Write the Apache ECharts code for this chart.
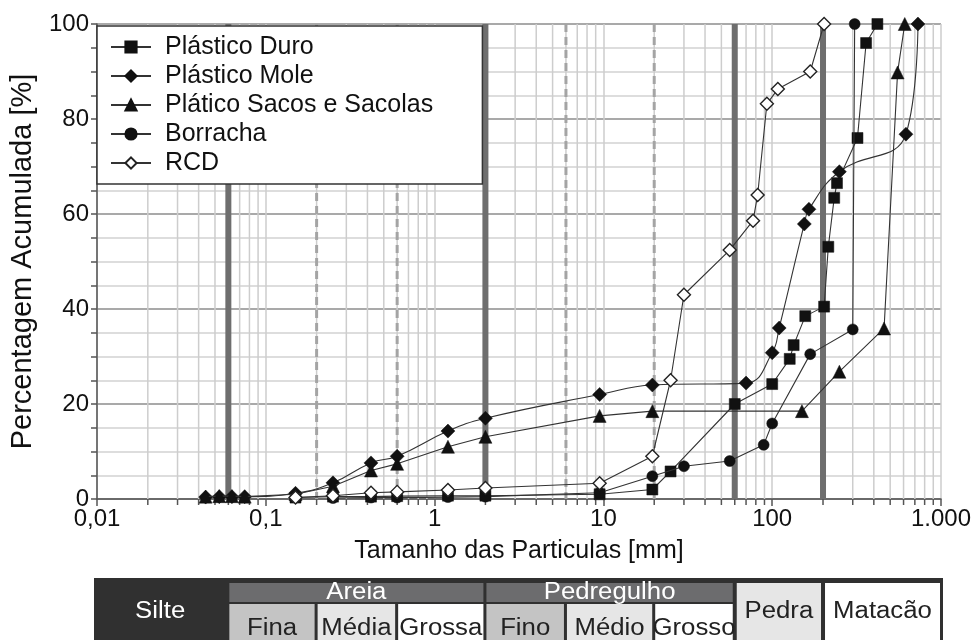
<!DOCTYPE html>
<html><head><meta charset="utf-8">
<script src="https://cdn.jsdelivr.net/npm/echarts@6/dist/echarts.min.js"></script>
<style>html,body{margin:0;padding:0;background:#fff}#c{width:978px;height:640px}</style>
</head><body><div id="c"></div>
<script>
// ---- data ----
const xTickLabels = ['0,01', '0,1', '1', '10', '100', '1.000'];
const seriesNames = ['Plástico Duro', 'Plástico Mole', 'Plático Sacos e Sacolas', 'Borracha', 'RCD'];
const plasticoDuro = [[0.15,0.3],[0.25,0.5],[0.42,0.5],[0.6,0.6],[1.2,0.7],[2,0.7],[9.5,1],[19.5,2],[25,5.8],[60,20],[100,24.2],[127,29.5],[134,32.4],[157,38.5],[203,40.5],[215,53.1],[233,63.4],[242,66.5],[320,76],[360,96],[420,100]];
const plasticoMole = [[0.044,0.4],[0.053,0.5],[0.063,0.5],[0.075,0.5],[0.15,1.2],[0.25,3.4],[0.42,7.6],[0.6,9],[1.2,14.3],[2,17],[9.5,22],[19.5,24],[70,24.4],[100,30.8],[110,36],[155,57.9],[165,61],[250,68.9],[620,76.8],[730,100]];
const plasticoSacos = [[0.044,0.5],[0.053,0.6],[0.063,0.6],[0.075,0.5],[0.15,1],[0.25,2.7],[0.42,6],[0.6,7.4],[1.2,11],[2,13.1],[9.5,17.5],[19.5,18.5],[150,18.5],[250,26.8],[460,35.9],[553,89.8],[610,100]];
const borracha = [[0.25,0.2],[0.42,0.3],[0.6,0.3],[1.2,0.4],[2,0.5],[9.5,1.3],[19.5,4.8],[30,6.9],[56,8],[89,11.4],[100,15.9],[168,30.5],[300,35.7],[308,100]];
const rcd = [[0.15,0.3],[0.25,0.7],[0.42,1.3],[0.6,1.5],[1.2,1.9],[2,2.3],[9.5,3.3],[19.5,9],[25,25],[30,43],[56,52.4],[77,58.6],[82,64],[93,83.2],[108,86.3],[168,90],[203,100]];
const solidBands = [0.06, 2, 60, 200];
const dashedBands = [0.2, 0.6, 6, 20];
const minorMultipliers = [2,3,4,5,6,7,8,9];
const decades = [0.01, 0.1, 1, 10, 100];
// classification table: [label, from, to]
const tableSpan = [['Silte',0.01,0.06],['Pedra',60,200],['Matacão',200,1000]];
const tableTop = [['Areia',0.06,2],['Pedregulho',2,60]];
const tableBottom = [['Fina',0.06,0.2],['Média',0.2,0.6],['Grossa',0.6,2],['Fino',2,6],['Médio',6,20],['Grosso',20,60]];

// ---- styles ----
const FONT = '"Liberation Sans", Arial, sans-serif';
const cellStyle = {
  'Silte':['#303030','#ffffff'], 'Pedra':['#e6e6e6','#222'], 'Matacão':['#ffffff','#222'],
  'Areia':['#6c6c6e','#ffffff'], 'Pedregulho':['#6c6c6e','#ffffff'],
  'Fina':['#c4c4c4','#222'], 'Média':['#e6e6e6','#222'], 'Grossa':['#ffffff','#222'],
  'Fino':['#c4c4c4','#222'], 'Médio':['#e6e6e6','#222'], 'Grosso':['#ffffff','#222']
};
const symbols = [
  {symbol:'rect', size:11, fill:'#111', border:'#111'},
  {symbol:'diamond', size:14, fill:'#111', border:'#111'},
  {symbol:'triangle', size:13, fill:'#111', border:'#111'},
  {symbol:'circle', size:11, fill:'#111', border:'#111'},
  {symbol:'diamond', size:13, fill:'#ffffff', border:'#222'}
];
const dataSets = [plasticoDuro, plasticoMole, plasticoSacos, borracha, rcd];
const smoothFlags = [false, 0.45, false, false, false];
const axisColor = '#555';

const chart = echarts.init(document.getElementById('c'));
const option = {
  animation: false,
  textStyle: {fontFamily: FONT},
  grid: {left: 97, right: 37, top: 24, bottom: 141},
  legend: {
    orient: 'vertical', left: 110, top: 34, padding: 0,
    itemWidth: 40, itemHeight: 14, itemGap: 3,
    data: seriesNames,
    textStyle: {fontSize: 25, color: '#111', lineHeight: 26, padding: [0,0,0,9], fontFamily: FONT}
  },
  xAxis: {
    type: 'log', logBase: 10, min: 0.01, max: 1000,
    axisLine: {onZero: false, lineStyle: {color: axisColor, width: 1.5}},
    axisTick: {show: true, length: 7, lineStyle: {color: axisColor, width: 1.5}},
    splitLine: {show: true, lineStyle: {color: '#cdcdcd', width: 1.5}},
    axisLabel: {fontSize: 24, color: '#111', margin: 8, fontFamily: FONT,
      formatter: function (v) { return xTickLabels[Math.round(Math.log10(v)) + 2]; }},
    name: 'Tamanho das Particulas [mm]', nameLocation: 'middle', nameGap: 40,
    nameTextStyle: {fontSize: 25, color: '#111', fontFamily: FONT}
  },
  yAxis: {
    type: 'value', min: 0, max: 100, interval: 20,
    axisLine: {show: true, lineStyle: {color: axisColor, width: 1.5}},
    axisTick: {show: true, length: 6, lineStyle: {color: axisColor, width: 1.5}},
    minorTick: {show: true, splitNumber: 4, length: 6, lineStyle: {color: axisColor, width: 1.5}},
    splitLine: {show: true, lineStyle: {color: '#8c8c8c', width: 1.5}},
    minorSplitLine: {show: true, lineStyle: {color: '#d2d2d2', width: 1.5}},
    axisLabel: {fontSize: 24, color: '#111', margin: 8, fontFamily: FONT},
    name: 'Percentagem Acumulada [%]', nameLocation: 'middle', nameGap: 60,
    nameTextStyle: {fontSize: 29, color: '#111', fontFamily: FONT}
  },
  series: seriesNames.map(function (n, i) {
    return {
      name: n, type: 'line', data: dataSets[i], smooth: smoothFlags[i],
      symbol: symbols[i].symbol, symbolSize: symbols[i].size, showSymbol: true,
      itemStyle: {color: symbols[i].fill, borderColor: symbols[i].border, borderWidth: i === 4 ? 1.4 : 0.5},
      lineStyle: {color: '#333', width: 1.1},
      z: 5 + i
    };
  })
};
chart.setOption(option);

function px(v) { return chart.convertToPixel({xAxisIndex: 0}, v); }
function py(v) { return chart.convertToPixel({yAxisIndex: 0}, v); }

const g = [];
const yTop = py(100), yBot = py(0);
// minor vertical grid + ticks
decades.forEach(function (d) {
  minorMultipliers.forEach(function (m) {
    const x = px(d * m);
    g.push({type: 'line', z: 1, silent: true, shape: {x1: x, y1: yTop, x2: x, y2: yBot},
      style: {stroke: '#cdcdcd', lineWidth: 1.5}});
    g.push({type: 'line', z: 1, silent: true, shape: {x1: x, y1: yBot, x2: x, y2: yBot + 6},
      style: {stroke: axisColor, lineWidth: 1.5}});
  });
});
// classification boundaries
solidBands.forEach(function (b) {
  const x = px(b);
  g.push({type: 'line', z: 2, silent: true, shape: {x1: x, y1: yTop, x2: x, y2: yBot},
    style: {stroke: '#6e6e6e', lineWidth: 6}});
});
dashedBands.forEach(function (b) {
  const x = px(b);
  g.push({type: 'line', z: 2, silent: true, shape: {x1: x, y1: yTop, x2: x, y2: yBot},
    style: {stroke: '#a4a4a4', lineWidth: 3, lineDash: [8, 5]}});
});
// legend box
g.push({type: 'rect', z: 3, silent: true, shape: {x: 97, y: 26, width: px(2) - 3 - 97, height: 158},
  style: {fill: '#fff', stroke: '#333', lineWidth: 1.5}});

// table
const tTop = 578, hTop = 583, hBot = 602, lTop = 604, tBot = 642;
const xL = 94, xR = px(1000) + 2;
g.push({type: 'rect', z: 3, silent: true, shape: {x: xL, y: tTop, width: xR - xL, height: tBot - tTop},
  style: {fill: '#303030'}});
function cell(label, x1, x2, y1, y2, ty) {
  const st = cellStyle[label];
  g.push({type: 'rect', z: 4, silent: true, shape: {x: x1, y: y1, width: x2 - x1, height: y2 - y1},
    style: {fill: st[0]}});
  g.push({type: 'text', z: 5, silent: true, x: (x1 + x2) / 2, y: ty, scaleX: 1.12,
    style: {text: label, fill: st[1], fontSize: 23, fontFamily: FONT, align: 'center', verticalAlign: 'middle'}});
}
tableSpan.forEach(function (c) {
  const x1 = c[1] === 0.01 ? xL : px(c[1]) + 2;
  const x2 = c[2] === 1000 ? xR - 3 : px(c[2]) - 2;
  cell(c[0], x1, x2, c[1] === 0.01 ? tTop : hTop, tBot, 612);
});
tableTop.forEach(function (c) { cell(c[0], px(c[1]) + 1, px(c[2]) - 2, hTop, hBot, 592.5); });
tableBottom.forEach(function (c) { cell(c[0], px(c[1]) + 1, px(c[2]) - 2, lTop, tBot, 629); });

chart.setOption({graphic: g});
</script>
</body></html>
